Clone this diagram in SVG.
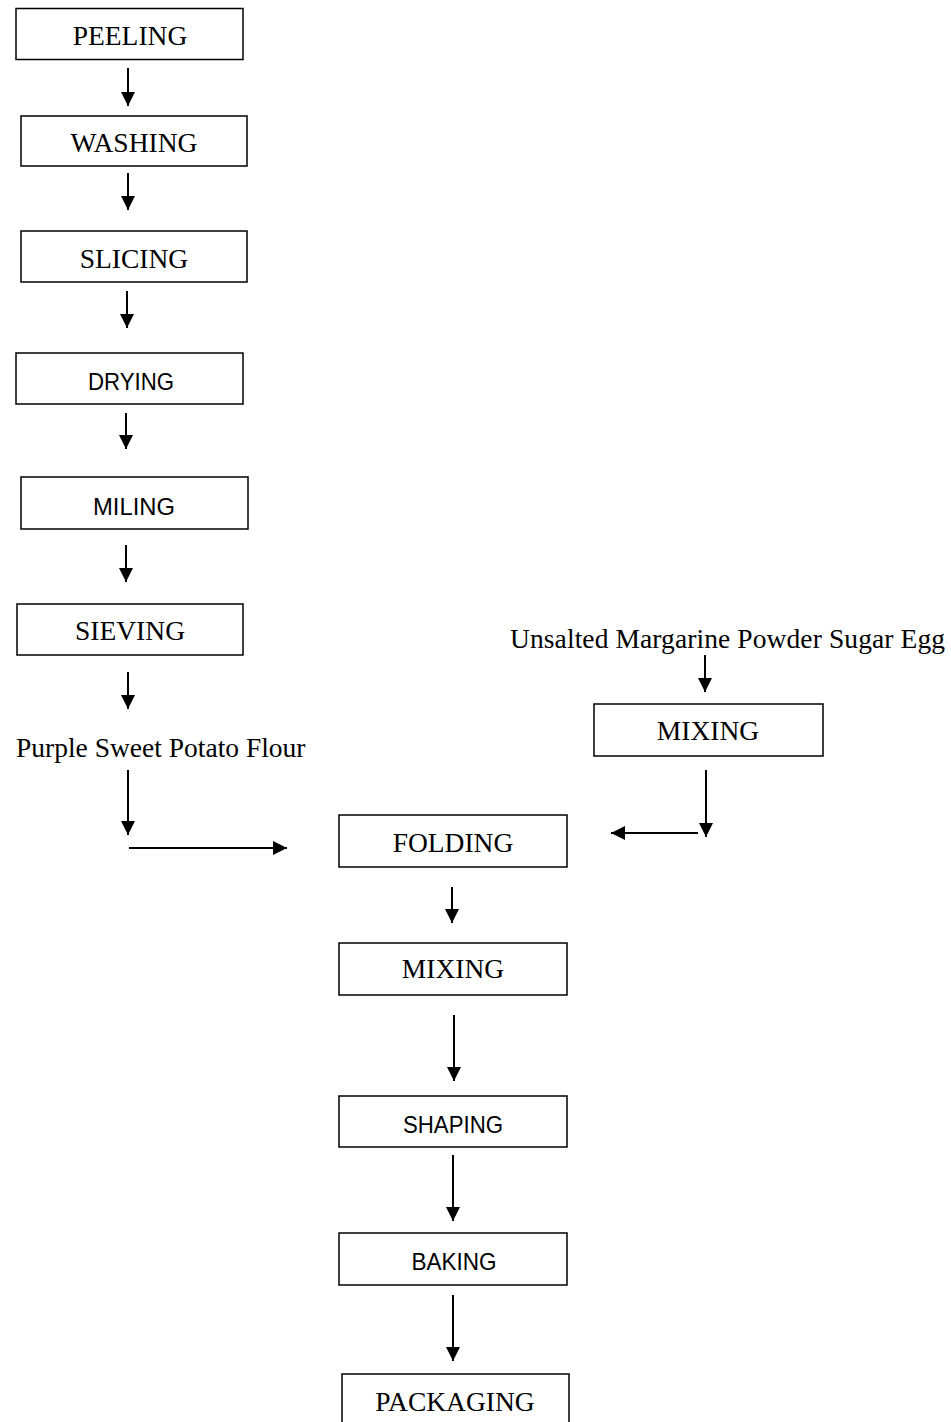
<svg xmlns="http://www.w3.org/2000/svg" width="951" height="1422" viewBox="0 0 951 1422">
<style>
.box{fill:#fff;stroke:#000;stroke-width:1.5}
.s{font-family:"Liberation Serif","Times New Roman",serif;font-size:27.5px;fill:#000}
.n{font-family:"Liberation Sans",Arial,sans-serif;font-size:24px;fill:#000}
.c{text-anchor:middle}
.ln{stroke:#000;stroke-width:2;fill:none;marker-end:url(#ah)}
</style>
<defs>
<marker id="ah" markerUnits="userSpaceOnUse" markerWidth="14" markerHeight="14" refX="14" refY="7" orient="auto">
<path d="M0,0 L14,7 L0,14 z" fill="#000"/>
</marker>
</defs>
<rect width="951" height="1422" fill="#fff"/>
<g id="peeling"><rect class="box" x="16" y="8.5" width="227" height="51"/><text class="s c" x="130" y="45">PEELING</text></g>
<g id="washing"><rect class="box" x="21" y="116" width="226" height="50"/><text class="s c" x="134" y="152">WASHING</text></g>
<g id="slicing"><rect class="box" x="21" y="231" width="226" height="51"/><text class="s c" x="134" y="268">SLICING</text></g>
<g id="drying"><rect class="box" x="16" y="353" width="227" height="51"/><text class="n c" x="131" y="390" textLength="86" lengthAdjust="spacingAndGlyphs">DRYING</text></g>
<g id="miling"><rect class="box" x="21" y="477" width="227" height="52"/><text class="n c" x="134" y="515" textLength="82" lengthAdjust="spacingAndGlyphs">MILING</text></g>
<g id="sieving"><rect class="box" x="17" y="604" width="226" height="51"/><text class="s c" x="130" y="640">SIEVING</text></g>
<g id="flour"><text class="s" x="16" y="757">Purple Sweet Potato Flour</text></g>
<g id="ingredients"><text class="s" x="510" y="648" textLength="435">Unsalted Margarine Powder Sugar Egg</text></g>
<g id="mixing1"><rect class="box" x="594" y="704" width="229" height="52"/><text class="s c" x="708" y="740">MIXING</text></g>
<g id="folding"><rect class="box" x="339" y="815" width="228" height="52"/><text class="s c" x="453" y="852">FOLDING</text></g>
<g id="mixing2"><rect class="box" x="339" y="943" width="228" height="52"/><text class="s c" x="453" y="978">MIXING</text></g>
<g id="shaping"><rect class="box" x="339" y="1096" width="228" height="51"/><text class="n c" x="453" y="1133" textLength="100" lengthAdjust="spacingAndGlyphs">SHAPING</text></g>
<g id="baking"><rect class="box" x="339" y="1233" width="228" height="52"/><text class="n c" x="454" y="1270" textLength="85" lengthAdjust="spacingAndGlyphs">BAKING</text></g>
<g id="packaging"><rect class="box" x="342" y="1374" width="227" height="60"/><text class="s c" x="455" y="1411">PACKAGING</text></g>
<g id="connectors">
<line class="ln" x1="128" y1="68" x2="128" y2="106"/>
<line class="ln" x1="128" y1="173" x2="128" y2="210"/>
<line class="ln" x1="127" y1="291" x2="127" y2="328"/>
<line class="ln" x1="126" y1="413" x2="126" y2="449"/>
<line class="ln" x1="126" y1="545" x2="126" y2="582"/>
<line class="ln" x1="128" y1="672" x2="128" y2="709"/>
<line class="ln" x1="128" y1="770" x2="128" y2="835"/>
<line class="ln" x1="129" y1="848" x2="287" y2="848"/>
<line class="ln" x1="705" y1="655" x2="705" y2="692"/>
<line class="ln" x1="706" y1="770" x2="706" y2="837"/>
<line class="ln" x1="698" y1="833" x2="611" y2="833"/>
<line class="ln" x1="452" y1="887" x2="452" y2="923"/>
<line class="ln" x1="454" y1="1015" x2="454" y2="1081"/>
<line class="ln" x1="453" y1="1155" x2="453" y2="1221"/>
<line class="ln" x1="453" y1="1295" x2="453" y2="1361"/>
</g>
</svg>
